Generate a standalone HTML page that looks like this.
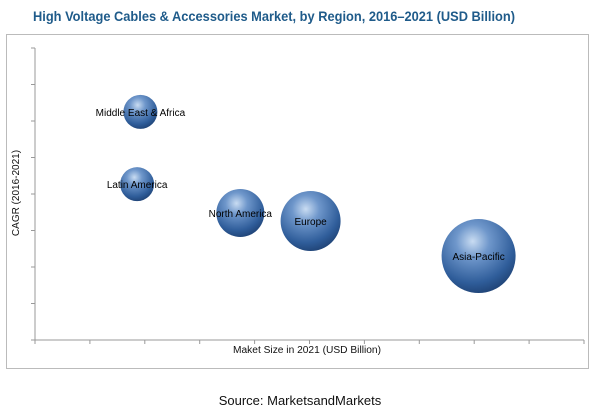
<!DOCTYPE html>
<html><head><meta charset="utf-8"><style>
body{margin:0;width:600px;height:411px;background:#fff;overflow:hidden}
text{font-family:"Liberation Sans",sans-serif}
</style></head><body>
<svg width="600" height="411" viewBox="0 0 600 411">
<defs>
<radialGradient id="g" cx="0.42" cy="0.3" r="0.75">
<stop offset="0" stop-color="#c9dcf2"/><stop offset="0.3" stop-color="#6f97cb"/><stop offset="0.75" stop-color="#2f5d9a"/><stop offset="1" stop-color="#1d3f70"/>
</radialGradient>
</defs>
<text x="33" y="21" font-size="14" font-weight="bold" fill="#1f5b8a" textLength="482" lengthAdjust="spacingAndGlyphs">High Voltage Cables &amp; Accessories Market, by Region, 2016–2021 (USD Billion)</text>
<rect x="6.5" y="34.5" width="582" height="334" fill="none" stroke="#bbb"/>
<g id="axes"></g>
<g id="bubbles"></g>
<text x="307" y="353" font-size="10" text-anchor="middle" fill="#111" textLength="148" lengthAdjust="spacingAndGlyphs">Maket Size in 2021 (USD Billion)</text>
<text transform="translate(19,193) rotate(-90)" font-size="10" text-anchor="middle" fill="#111">CAGR (2016-2021)</text>
<text x="300" y="405" font-size="13" text-anchor="middle" fill="#111">Source: MarketsandMarkets</text>
</svg>
<script>
const regions=["Middle East & Africa","Latin America","North America","Europe","Asia-Pacific"];
const marketSize=[1.92,1.86,3.74,5.02,8.08];
const cagr=[6.25,4.27,3.48,3.26,2.30];
const bubbleSize=[289,289,576,900,1369];
const X0=35,X1=584,Y0=340,Y1=48,XMAX=10,YMAX=8;
const sx=v=>X0+v/XMAX*(X1-X0), sy=v=>Y0-v/YMAX*(Y0-Y1);
const rs=v=>Math.sqrt(v);
const ns="http://www.w3.org/2000/svg";
const ax=document.getElementById('axes');
function ln(x1,y1,x2,y2,name){const l=document.createElementNS(ns,'line');l.setAttribute('x1',x1);l.setAttribute('y1',y1);l.setAttribute('x2',x2);l.setAttribute('y2',y2);l.setAttribute('stroke','#999');


ax.appendChild(l);}
ln(X0,Y1,X0,Y0,'y-axis');ln(X0,Y0,X1,Y0,'x-axis');
for(let i=0;i<=XMAX;i++)ln(sx(i),Y0,sx(i),Y0+4,'x-tick');
for(let i=0;i<=YMAX;i++)ln(X0-4,sy(i),X0,sy(i),'y-tick');
const bg=document.getElementById('bubbles');
regions.forEach((r,i)=>{
const c=document.createElementNS(ns,'circle');
c.setAttribute('cx',sx(marketSize[i]));c.setAttribute('cy',sy(cagr[i]));c.setAttribute('r',rs(bubbleSize[i]));c.setAttribute('fill','url(#g)');


bg.appendChild(c);
const t=document.createElementNS(ns,'text');
t.setAttribute('x',sx(marketSize[i]));t.setAttribute('y',sy(cagr[i])+4);t.setAttribute('text-anchor','middle');t.setAttribute('font-size','10');t.setAttribute('fill','#000');
t.textContent=r;


bg.appendChild(t);
});
</script>
</body></html>
